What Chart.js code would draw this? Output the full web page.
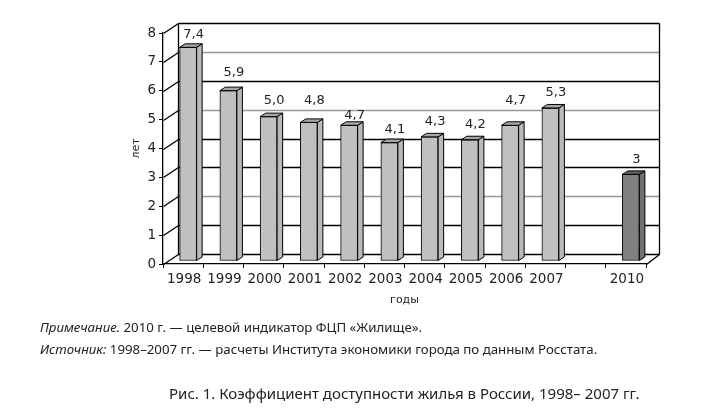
<!DOCTYPE html>
<html lang="ru">
<head>
<meta charset="utf-8">
<title>Коэффициент доступности жилья</title>
<script src="https://cdn.jsdelivr.net/npm/chart.js@4"></script>
<style>
    html, body { margin: 0; padding: 0; background: #fff; }
    #wrap { position: relative; width: 701px; height: 410px; overflow: hidden; }
    canvas { position: absolute; left: 0; top: 0; }
    .note { position: absolute; white-space: nowrap; color: #222; font-family: "Noto Sans", sans-serif; font-size: 13.25px; line-height: 16px; }
    .caption { font-size: 15px; line-height: 18px; }
</style>
</head>
<body>
<div id="wrap">
    <canvas id="myChart" width="701" height="410"></canvas>
    <div class="note" style="left:40px;top:319px"><i>Примечание.</i> 2010 г. — целевой индикатор ФЦП «Жилище».</div>
    <div class="note" style="left:40px;top:341px"><i>Источник:</i> 1998–2007 гг. — расчеты Института экономики города по данным Росстата.</div>
    <div class="note caption" style="left:169px;top:384px">Рис. 1. Коэффициент доступности жилья в России, 1998– 2007 гг.</div>
</div>
<script>
const categories = ["1998", "1999", "2000", "2001", "2002", "2003", "2004", "2005", "2006", "2007", "", "2010"];
const values = [7.4, 5.9, 5.0, 4.8, 4.7, 4.1, 4.3, 4.2, 4.7, 5.3, null, 3];
const targetYears = ["2010"];
const yTicks = [0, 1, 2, 3, 4, 5, 6, 7, 8];

// how far each value label sits above its bar, the source placed them by hand
const labelLift = [13, 18, 16, 22, 10, 13, 15, 15, 25, 15, 0, 15];
// the back wall lines are not all the same shade in the source
const wallColours = ["#000", "#000", "#999", "#000", "#000", "#999", "#000", "#999", "#000"];

const font = "DejaVu Sans, sans-serif";
const wallX = 15, wallY = -10;   // depth of the box
const wallRightX = 13;           // the right end of the wall is a bit shorter
const barX = 5, barY = -3;       // bars stand inside the box
const sideX = 5.5, sideY = -3.5; // depth of a bar

function line(ctx, x1, y1, x2, y2, colour) {
    ctx.strokeStyle = colour;
    ctx.beginPath();
    ctx.moveTo(x1, y1);
    ctx.lineTo(x2, y2);
    ctx.stroke();
}

function isTarget(i) {
    return targetYears.includes(categories[i]);
}

const boxPlugin = {
    id: "box",
    beforeDatasetsDraw(chart) {
        const { ctx, chartArea: a, scales: { y } } = chart;
        ctx.save();
        ctx.lineWidth = 1.3;
        const left = Math.round(a.left) + 0.5;
        const right = Math.round(a.right) + 0.5;
        yTicks.forEach((t, i) => {
            const py = Math.round(y.getPixelForValue(t)) + 0.5;
            line(ctx, left + wallX, py + wallY, right + wallRightX, py + wallY, wallColours[i]);
            line(ctx, left, py, left + wallX, py + wallY, "#000");
        });
        const top = Math.round(y.getPixelForValue(8)) + 0.5 + wallY;
        const bottom = Math.round(y.getPixelForValue(0)) + 0.5;
        line(ctx, left + wallX, top, left + wallX, bottom + wallY, "#000");
        line(ctx, right + wallRightX, top, right + wallRightX, bottom + wallY, "#000");
        line(ctx, right, bottom, right + wallRightX, bottom + wallY, "#000");
        ctx.restore();
        // bars go in from the front plane
        ctx.save();
        ctx.translate(barX, barY);
    },
    afterDatasetsDraw(chart) {
        const { ctx } = chart;
        ctx.lineWidth = 1;
        ctx.strokeStyle = "#000";
        const bars = chart.getDatasetMeta(0).data;
        bars.forEach((bar, i) => {
            if (values[i] === null) return;
            const half = bar.width / 2;
            const l = bar.x - half, r = bar.x + half, t = bar.y, b = bar.base;
            ctx.fillStyle = isTarget(i) ? "#707070" : "#b9b9b9";
            ctx.beginPath();
            ctx.moveTo(r, t);
            ctx.lineTo(r + sideX, t + sideY);
            ctx.lineTo(r + sideX, b + sideY);
            ctx.lineTo(r, b);
            ctx.closePath();
            ctx.fill();
            ctx.stroke();
            ctx.fillStyle = isTarget(i) ? "#606060" : "#a6a6a6";
            ctx.beginPath();
            ctx.moveTo(l, t);
            ctx.lineTo(l + sideX, t + sideY);
            ctx.lineTo(r + sideX, t + sideY);
            ctx.lineTo(r, t);
            ctx.closePath();
            ctx.fill();
            ctx.stroke();
        });
        ctx.restore();

        // value labels
        ctx.save();
        ctx.font = "13px " + font;
        ctx.fillStyle = "#222";
        ctx.textAlign = "center";
        ctx.textBaseline = "middle";
        bars.forEach((bar, i) => {
            if (values[i] === null) return;
            const text = isTarget(i) ? String(values[i]) : values[i].toFixed(1).replace(".", ",");
            ctx.fillText(text, bar.x + barX + sideX, bar.y + barY - labelLift[i]);
        });
        ctx.restore();
    }
};

new Chart(document.getElementById("myChart").getContext("2d"), {
    type: "bar",
    data: {
        labels: categories,
        datasets: [{
            data: values,
            backgroundColor: categories.map((c, i) => isTarget(i) ? "#808080" : "#c0c0c0"),
            borderColor: "#000",
            borderWidth: 1,
            borderSkipped: false,
            barThickness: 17
        }]
    },
    options: {
        responsive: false,
        animation: false,
        events: [],
        layout: { padding: { left: 0, top: 33, right: 55, bottom: 0 } },
        plugins: {
            legend: { display: false },
            tooltip: { enabled: false }
        },
        scales: {
            x: {
                offset: true,
                afterFit: (scale) => { scale.height = 146; },
                border: { color: "#000", width: 1.3 },
                grid: { offset: true, drawOnChartArea: false, color: "#000", tickLength: 4 },
                ticks: {
                    color: "#222",
                    padding: 3,
                    labelOffset: 1,
                    maxRotation: 0,
                    autoSkip: false,
                    font: { family: font, size: 13.5 }
                },
                title: {
                    display: true,
                    text: "годы",
                    color: "#222",
                    font: { family: font, size: 11 },
                    padding: { top: 0, bottom: 103 }
                }
            },
            y: {
                min: 0,
                max: 8,
                afterFit: (scale) => { scale.width = 163; },
                afterBuildTicks: (scale) => { scale.ticks = yTicks.map(v => ({ value: v })); },
                border: { color: "#000", width: 1.3 },
                grid: { drawOnChartArea: false, color: "#000", tickLength: 4 },
                ticks: {
                    color: "#222",
                    padding: 3,
                    font: { family: font, size: 13.5 }
                },
                title: {
                    display: true,
                    text: "лет",
                    color: "#222",
                    font: { family: font, size: 11 },
                    padding: { top: 130, bottom: 0 }
                }
            }
        }
    },
    plugins: [boxPlugin]
});
</script>
</body>
</html>
